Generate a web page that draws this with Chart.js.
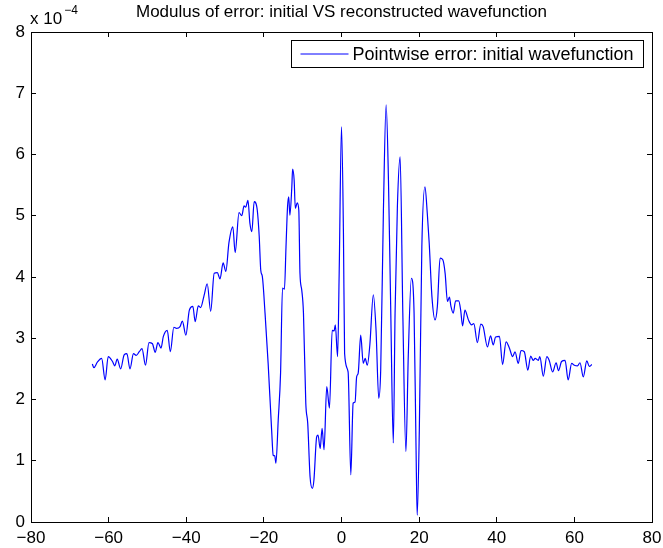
<!DOCTYPE html>
<html>
<head>
<meta charset="utf-8">
<script src="https://cdn.jsdelivr.net/npm/chart.js@4.4.1/dist/chart.umd.min.js"></script>
<style>
  html, body { margin: 0; padding: 0; background: #fff; }
  #wrap { width: 663px; height: 548px; }
</style>
</head>
<body>
<div id="wrap"><canvas id="chart" width="663" height="548"></canvas></div>
<script>
// x positions and pointwise error (in units of 1e-4, see axis multiplier)
const xPos = [
  -64.2, -63.8, -62.9, -61.8, -60.9, -60.1, -59.0, -58.4, -57.8, -56.9,
  -56.0, -55.3, -54.5, -53.6, -52.9, -52.1, -51.4, -50.5, -49.6, -48.7,
  -48.0, -47.3, -46.5, -45.9, -44.9, -44.1, -43.2, -42.5, -41.6, -41.0,
  -40.1, -39.2, -38.3, -37.7, -36.9, -36.3, -35.4, -34.6, -33.7, -32.8,
  -32.0, -31.3, -30.5, -29.8, -29.0, -28.0, -27.4, -26.4, -25.7, -25.1,
  -24.7, -24.1,
  -23.6, -23.1, -22.5, -21.7, -21.2, -20.8, -20.4, -19.7, -18.9, -18.0,
  -17.6, -17.2, -16.9, -16.3, -15.7, -15.2, -14.7, -14.3, -13.9, -13.6,
  -13.3, -12.8, -12.6, -12.2, -11.9, -11.4, -11.0, -10.7, -10.25, -9.8,
  -9.2, -8.7, -8.1, -7.5, -7.1, -6.4, -6.05, -5.5, -5.0, -4.5,
  -3.8, -3.1, -2.4, -1.9, -1.6, -1.0, -0.6, 0.0, 0.5,
  0.8, 1.7, 2.4, 3.0, 3.5, 3.9, 4.3, 4.95, 5.6, 6.1,
  6.65, 7.3, 8.2, 8.9, 9.6, 10.1, 10.8, 11.5, 12.1, 12.7,
  13.35, 13.8, 14.4, 15.1, 15.8, 16.6, 17.2, 18.0, 18.7, 19.2,
  19.5, 20.05, 20.7, 21.5, 22.1, 22.6, 23.3, 24.1, 24.7, 25.4,
  26.1, 26.7, 27.3, 27.8, 28.2, 28.8, 29.4, 30.2, 30.7, 31.2,
  31.8, 32.7, 33.5, 34.1, 35.0, 35.9, 36.5, 37.6, 38.4, 39.1,
  39.7, 40.7, 41.5, 42.4, 43.2, 44.1, 44.7, 45.55, 46.25, 47.1,
  48.0, 48.75, 49.4, 49.9, 50.7, 51.1, 52.0, 52.9, 53.5, 54.4,
  55.3, 55.9, 56.7, 57.6, 58.4, 59.3, 60.0, 60.8, 61.45, 62.3,
  63.2, 63.85, 64.5
];
const errE4 = [
  2.58, 2.52, 2.61, 2.67, 2.32, 2.70, 2.62, 2.55, 2.66, 2.50,
  2.73, 2.75, 2.50, 2.75, 2.72, 2.78, 2.83, 2.56, 2.93, 2.91,
  2.77, 2.93, 2.84, 3.03, 3.13, 2.78, 3.18, 3.16, 3.19, 3.28,
  3.05, 3.46, 3.52, 3.27, 3.53, 3.50, 3.70, 3.89, 3.44, 4.06,
  4.07, 3.97, 4.23, 4.09, 4.56, 4.82, 4.40, 5.05, 5.00, 5.16,
  5.14, 5.25,
  4.88, 4.74, 5.23, 5.09, 4.66, 4.11, 4.01, 3.41, 2.59, 1.50,
  1.09, 1.08, 0.96, 1.67, 2.43, 3.82, 3.80, 4.49, 5.15, 5.31,
  5.01, 5.47, 5.76, 5.58, 5.12, 5.21, 5.09, 4.06, 3.79, 3.41,
  1.94, 1.61, 0.74, 0.55, 0.69, 1.39, 1.42, 1.20, 1.53, 1.18,
  2.21, 1.86, 3.13, 3.12, 3.22, 2.70, 4.06, 6.45, 4.71,
  2.75, 2.45, 0.77, 1.94, 1.96, 2.37, 2.43, 3.05, 2.59, 2.67,
  2.56, 2.89, 3.71, 3.13, 2.02, 2.48, 5.09, 6.81, 5.58, 3.41,
  1.29, 3.41, 5.15, 5.96, 3.41, 1.15, 2.70, 3.98, 3.41, 1.23,
  0.11, 1.50, 4.49, 5.47, 5.04, 4.55, 3.68, 3.30, 3.52, 4.31,
  4.28, 4.06, 3.60, 3.67, 3.52, 3.41, 3.61, 3.61, 3.46, 3.20,
  3.46, 3.30, 3.22, 3.24, 2.93, 3.23, 3.19, 2.86, 3.04, 2.89,
  3.02, 3.03, 2.57, 2.94, 2.85, 2.70, 2.78, 2.59, 2.80, 2.78,
  2.48, 2.71, 2.64, 2.67, 2.64, 2.70, 2.38, 2.70, 2.64, 2.45,
  2.60, 2.47, 2.62, 2.64, 2.32, 2.59, 2.56, 2.55, 2.60, 2.37,
  2.63, 2.54, 2.57
];
const xTicks = [-80, -60, -40, -20, 0, 20, 40, 60, 80];
const yTicks = [0, 1, 2, 3, 4, 5, 6, 7, 8];

const FONT = '"Liberation Sans", Arial, Helvetica, sans-serif';
const fmt = (v) => (v < 0 ? '\u2212' + Math.abs(v) : String(v));

// matlab style: legend box inside the axes and the "x 10^-4" multiplier
const matlabExtras = {
  id: 'matlabExtras',
  afterDraw(chart) {
    const ctx = chart.ctx;
    const ds = chart.data.datasets[0];
    const area = chart.chartArea;
    ctx.save();
    const bx = 291.5, by = 40.5, bw = 352, bh = 27;
    ctx.fillStyle = '#fff';
    ctx.fillRect(bx, by, bw, bh);
    ctx.strokeStyle = '#000';
    ctx.lineWidth = 1;
    ctx.strokeRect(bx, by, bw, bh);
    ctx.strokeStyle = ds.borderColor;
    ctx.beginPath();
    ctx.moveTo(bx + 9, by + bh / 2);
    ctx.lineTo(bx + 57, by + bh / 2);
    ctx.stroke();
    ctx.fillStyle = '#000';
    ctx.font = '18px ' + FONT;
    ctx.textBaseline = 'middle';
    ctx.textAlign = 'left';
    ctx.fillText(ds.label, bx + 61, by + bh / 2 + 1);

    // exponent label above the y axis
    ctx.textBaseline = 'alphabetic';
    ctx.font = '17px ' + FONT;
    ctx.fillText('x 10', area.left - 1, 24);
    const w = ctx.measureText('x 10').width;
    ctx.font = '12px ' + FONT;
    ctx.fillText('\u22124', area.left + w + 1, 14);
    ctx.restore();
  }
};

const tickGrid = { drawOnChartArea: false, drawTicks: true, tickLength: -5, color: '#000' };
const axisBorder = { color: '#000', width: 1 };

new Chart(document.getElementById('chart'), {
  type: 'line',
  data: {
    datasets: [{
      label: 'Pointwise error: initial wavefunction',
      data: xPos.map((x, i) => ({ x: x, y: errE4[i] })),
      borderColor: '#0000ff',
      borderWidth: 1.2,
      pointRadius: 0,
      fill: false,
      cubicInterpolationMode: 'monotone'
    }]
  },
  options: {
    responsive: false,
    animation: false,
    layout: { padding: 0 },
    plugins: {
      legend: { display: false },
      tooltip: { enabled: false },
      title: {
        display: true,
        fullSize: false,
        text: 'Modulus of error: initial VS reconstructed wavefunction',
        color: '#000',
        font: { family: FONT, size: 17, weight: 'normal', lineHeight: 1.2 },
        padding: { top: 2, bottom: 9.6 }
      }
    },
    scales: {
      x: {
        type: 'linear',
        position: 'bottom',
        min: -80,
        max: 80,
        afterBuildTicks: (s) => { s.ticks = xTicks.map((v) => ({ value: v })); },
        afterFit: (s) => { s.height = 26; s.paddingLeft = 0; s.paddingRight = 0; },
        grid: tickGrid,
        border: axisBorder,
        ticks: { color: '#000', padding: 11, maxRotation: 0, autoSkip: false,
          font: { family: FONT, size: 17 }, callback: fmt }
      },
      x2: {
        type: 'linear',
        position: 'top',
        min: -80,
        max: 80,
        afterBuildTicks: (s) => { s.ticks = xTicks.map((v) => ({ value: v })); },
        afterFit: (s) => { s.height = 0; },
        grid: tickGrid,
        border: axisBorder,
        ticks: { display: false }
      },
      y: {
        type: 'linear',
        position: 'left',
        min: 0,
        max: 8,
        afterBuildTicks: (s) => { s.ticks = yTicks.map((v) => ({ value: v })); },
        afterFit: (s) => { s.width = 31; },
        grid: tickGrid,
        border: axisBorder,
        ticks: { color: '#000', padding: 11, autoSkip: false,
          font: { family: FONT, size: 17 }, callback: fmt }
      },
      y2: {
        type: 'linear',
        position: 'right',
        min: 0,
        max: 8,
        afterBuildTicks: (s) => { s.ticks = yTicks.map((v) => ({ value: v })); },
        afterFit: (s) => { s.width = 11; },
        grid: tickGrid,
        border: axisBorder,
        ticks: { display: false }
      }
    }
  },
  plugins: [matlabExtras]
});
</script>
</body>
</html>
